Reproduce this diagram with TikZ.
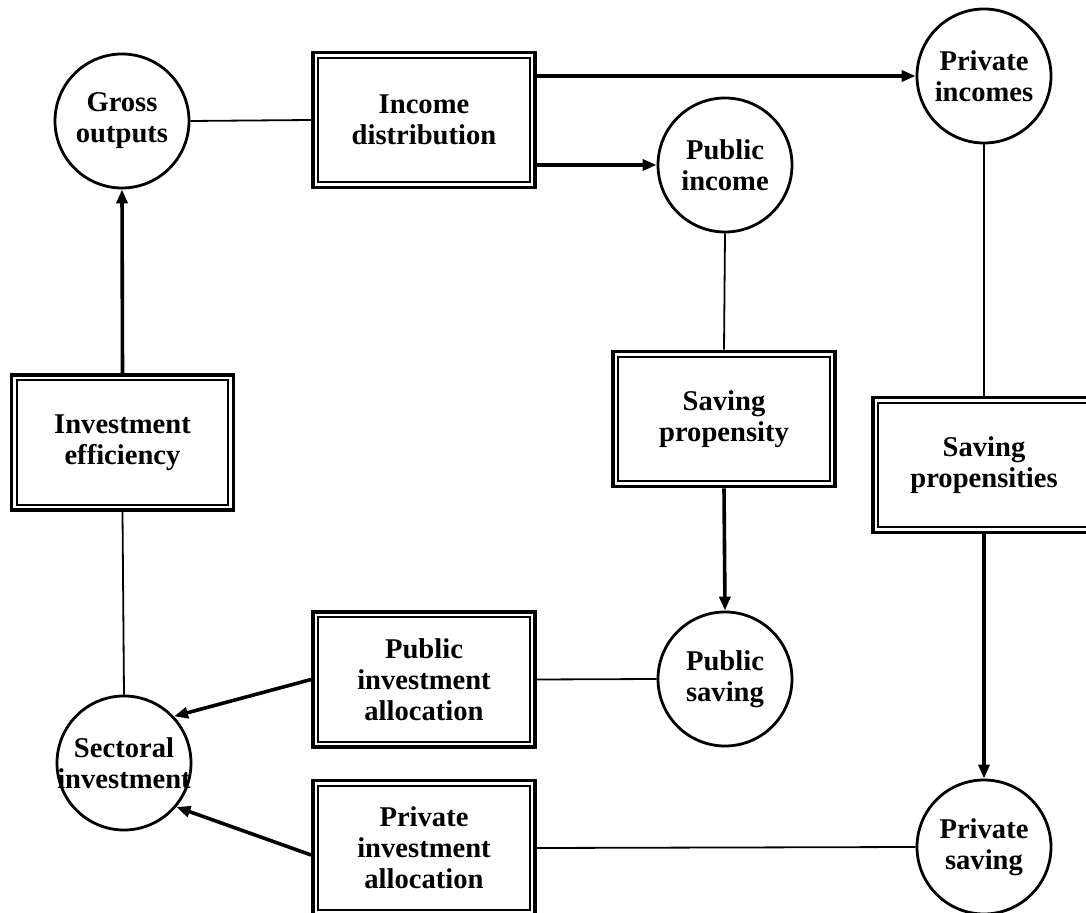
\documentclass[tikz,border=0pt]{standalone}
\usepackage{fontspec}
\setmainfont{Liberation Serif}
\usetikzlibrary{arrows.meta}
\begin{document}
\begin{tikzpicture}[x=0.5pt,y=-0.5pt,
  txt/.style={font=\fontsize{14.3}{15.5}\selectfont\bfseries, align=center, inner sep=0pt},
  circ/.style={circle, draw, line width=1.4pt, minimum size=67pt, inner sep=0pt, fill=white,
    label={[txt]center:#1}},
  dbox/.style={rectangle, draw, line width=1.9pt, minimum width=111pt, minimum height=67.5pt,
    fill=white, txt,
    path picture={\draw[line width=0.9pt] ([shift={(2.6pt,2.6pt)}]path picture bounding box.south west)
      rectangle ([shift={(-2.6pt,-2.6pt)}]path picture bounding box.north east);}},
  thin/.style={line width=0.9pt},
  arr/.style={line width=1.8pt, -{Triangle[length=7pt,width=5.5pt]}}
]
\useasboundingbox (0,0) rectangle (1086,913);

\node[circ={Gross\\outputs}] (go) at (122,121) {};
\node[dbox] (id) at (424,120) {Income\\distribution};
\node[circ={Private\\incomes}] (pi) at (984,76) {};
\node[circ={Public\\income}] (pubi) at (725,165) {};
\node[dbox] (ie) at (122.5,442.5) {Investment\\efficiency};
\node[dbox] (sp) at (724,419) {Saving\\propensity};
\node[dbox] (sps) at (984,465) {Saving\\propensities};
\node[circ={Sectoral\\investment}] (si) at (124,763) {};
\node[dbox] (pia) at (424,679.5) {Public\\investment\\allocation};
\node[dbox] (pria) at (424,848) {Private\\investment\\allocation};
\node[circ={Public\\saving}] (pubs) at (725,679) {};
\node[circ={Private\\saving}] (ps) at (984,847) {};

\draw[arr] (ie.north) -- (go.south);
\draw[thin] (go.east) -- (id.west);
\draw[arr] (id.east |- pi) -- (pi.west);
\draw[arr] (id.east |- pubi) -- (pubi.west);
\draw[thin] (pubi.south) -- (sp.north);
\draw[arr] (sp.south) -- (pubs.north);
\draw[thin] (pi.south) -- (sps.north);
\draw[arr] (sps.south) -- (ps.north);
\draw[thin] (ie.south) -- (si.north);
\draw[arr] (pia.west) -- (si.43);
\draw[arr] ([yshift=-3.5pt]pria.west) -- (si.-40);
\draw[thin] (pia.east) -- (pubs.west);
\draw[thin] (pria.east) -- (ps.west);
\end{tikzpicture}
\end{document}
